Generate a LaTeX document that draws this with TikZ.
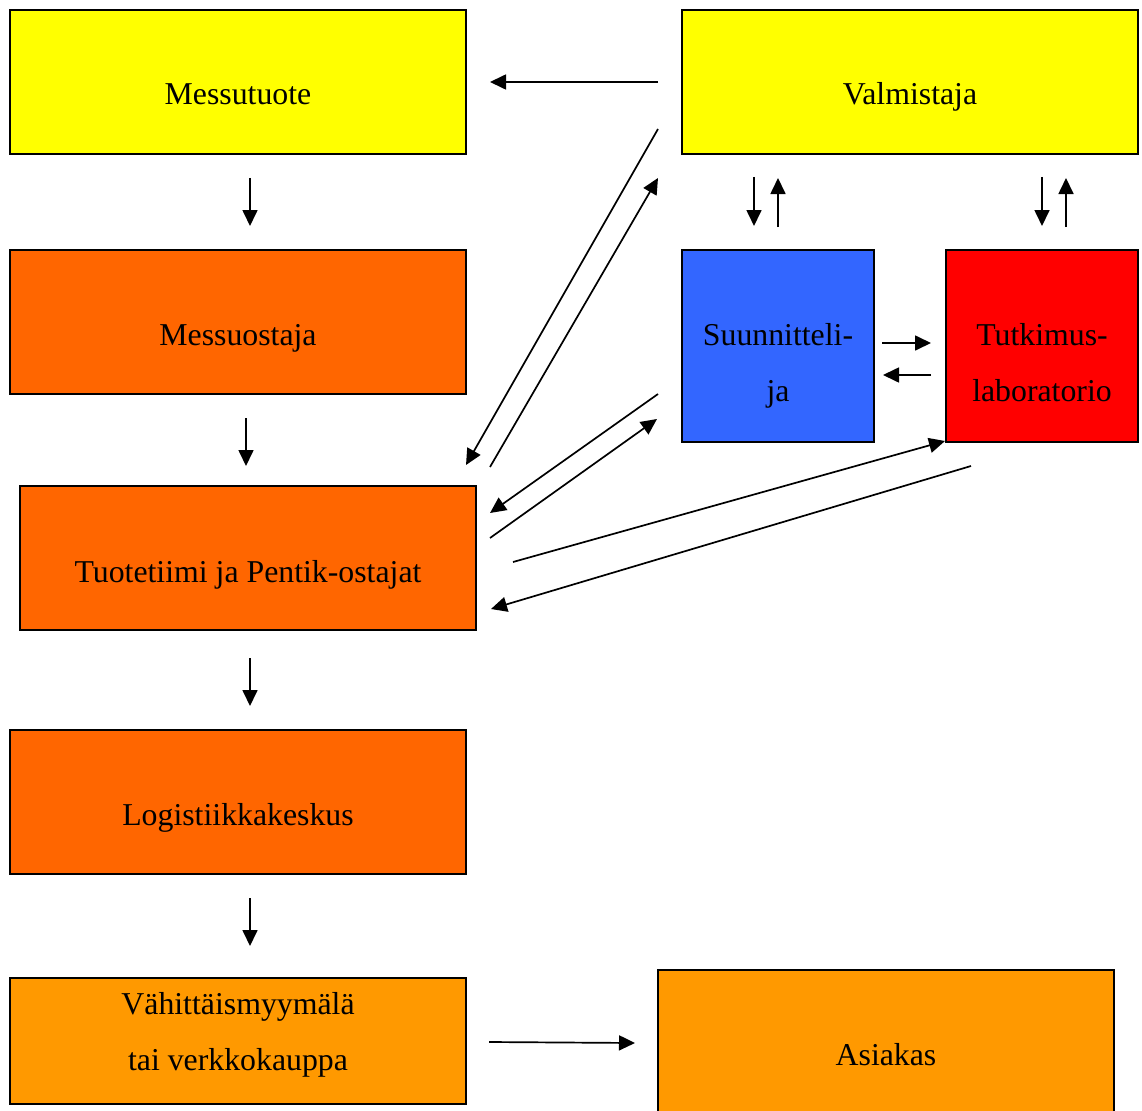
\documentclass[tikz,border=0pt]{standalone}
\usepackage{fontspec}
\setmainfont{Liberation Serif}
\usetikzlibrary{arrows.meta}
\definecolor{cyellow}{HTML}{FFFF00}
\definecolor{corange}{HTML}{FF6600}
\definecolor{clight}{HTML}{FF9900}
\definecolor{cblue}{HTML}{3366FF}
\definecolor{cred}{HTML}{FF0000}
\tikzset{
  box/.style={draw=black, line width=1.5pt, rectangle, inner sep=0pt},
  wide/.style={box, minimum width=456pt, minimum height=144pt},
  square/.style={box, minimum width=192pt, minimum height=192pt},
  lbl/.style={anchor=base, inner sep=0pt, font=\fontsize{31.8}{56}\selectfont},
  flow/.style={line width=1.7pt, -{Triangle[length=16pt,width=15pt]}}
}
\begin{document}
\begin{tikzpicture}[x=1pt,y=-1pt]
\clip (0,0) rectangle (1142,1110);
\fill[white] (0,0) rectangle (1142,1110);

% boxes
\node[wide, fill=cyellow] (messutuote) at (238,82) {};
\node[wide, fill=cyellow] (valmistaja) at (910,82) {};
\node[wide, fill=corange] (messuostaja) at (238,322) {};
\node[square, fill=cblue] (suunnittelija) at (778,346) {};
\node[square, fill=cred] (tutkimus) at (1042,346) {};
\node[wide, fill=corange] (tuotetiimi) at (248,558) {};
\node[wide, fill=corange] (logistiikka) at (238,802) {};
\node[wide, fill=clight, minimum height=126pt] (vahittais) at (238,1041) {};
\node[wide, fill=clight, minimum height=160pt] (asiakas) at (886,1050) {};

% labels
\node[lbl] (messutuote-t) at (238,105) {Messutuote};
\node[lbl] (valmistaja-t) at (910,105) {Valmistaja};
\node[lbl] (messuostaja-t) at (238,345) {Messuostaja};
\node[lbl] (suun-t1) at (778,345) {Suunnitteli-};
\node[lbl] (suun-t2) at (778,401) {ja};
\node[lbl] (tutk-t1) at (1042,345) {Tutkimus-};
\node[lbl] (tutk-t2) at (1042,401) {laboratorio};
\node[lbl] (tuotetiimi-t) at (248,582) {Tuotetiimi ja Pentik-ostajat};
\node[lbl] (logistiikka-t) at (238,825) {Logistiikkakeskus};
\node[lbl] (vahittais-t1) at (238,1014) {Vähittäismyymälä};
\node[lbl] (vahittais-t2) at (238,1070) {tai verkkokauppa};
\node[lbl] (asiakas-t) at (886,1065) {Asiakas};

% arrow end points
\coordinate (a1s) at (658,82);  \coordinate (a1e) at (490,82);
\coordinate (a2s) at (658,129); \coordinate (a2e) at (466,465);
\coordinate (a3s) at (490,467); \coordinate (a3e) at (658,178);
\coordinate (a4s) at (658,394); \coordinate (a4e) at (490,513);
\coordinate (a5s) at (490,538); \coordinate (a5e) at (657,419);
\coordinate (a6s) at (513,562); \coordinate (a6e) at (945,441);
\coordinate (a7s) at (971,466); \coordinate (a7e) at (491,609);
\coordinate (v1s) at (754,177); \coordinate (v1e) at (754,226);
\coordinate (v2s) at (778,227); \coordinate (v2e) at (778,178);
\coordinate (v3s) at (1042,177); \coordinate (v3e) at (1042,226);
\coordinate (v4s) at (1066,227); \coordinate (v4e) at (1066,178);
\coordinate (h1s) at (882,343); \coordinate (h1e) at (931,343);
\coordinate (h2s) at (931,375); \coordinate (h2e) at (883,375);
\coordinate (d1s) at (250,178); \coordinate (d1e) at (250,226);
\coordinate (d2s) at (246,418); \coordinate (d2e) at (246,466);
\coordinate (d3s) at (250,658); \coordinate (d3e) at (250,706);
\coordinate (d4s) at (250,898); \coordinate (d4e) at (250,946);
\coordinate (r1s) at (489,1042); \coordinate (r1e) at (635,1043);

% connectors
\foreach \p in {a1,a2,a3,a4,a5,a6,a7,v1,v2,v3,v4,h1,h2,d1,d2,d3,d4,r1}
  \draw[flow] (\p s) -- (\p e);
\end{tikzpicture}
\end{document}
